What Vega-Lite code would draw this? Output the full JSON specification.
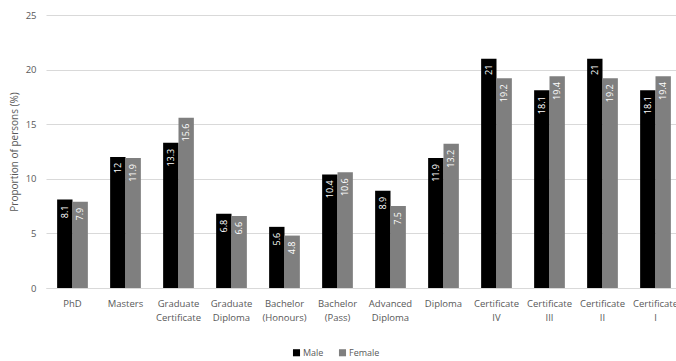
{
  "$schema": "https://vega.github.io/schema/vega-lite/v6.json",
  "width": 636,
  "height": 273,
  "autosize": {"type": "none"},
  "padding": {"left": 46, "top": 15, "right": 0, "bottom": 73},
  "background": "white",
  "config": {
    "view": {"stroke": null},
    "font": "Open Sans",
    "axis": {"labelColor": "#595959", "titleColor": "#595959", "labelFont": "Open Sans", "titleFont": "Open Sans"},
    "legend": {"labelColor": "#595959", "labelFont": "Open Sans"}
  },
  "data": {
    "values": [
      {"level": "PhD", "sex": "Male", "pct": 8.1},
      {"level": "PhD", "sex": "Female", "pct": 7.9},
      {"level": "Masters", "sex": "Male", "pct": 12},
      {"level": "Masters", "sex": "Female", "pct": 11.9},
      {"level": "Graduate Certificate", "sex": "Male", "pct": 13.3},
      {"level": "Graduate Certificate", "sex": "Female", "pct": 15.6},
      {"level": "Graduate Diploma", "sex": "Male", "pct": 6.8},
      {"level": "Graduate Diploma", "sex": "Female", "pct": 6.6},
      {"level": "Bachelor (Honours)", "sex": "Male", "pct": 5.6},
      {"level": "Bachelor (Honours)", "sex": "Female", "pct": 4.8},
      {"level": "Bachelor (Pass)", "sex": "Male", "pct": 10.4},
      {"level": "Bachelor (Pass)", "sex": "Female", "pct": 10.6},
      {"level": "Advanced Diploma", "sex": "Male", "pct": 8.9},
      {"level": "Advanced Diploma", "sex": "Female", "pct": 7.5},
      {"level": "Diploma", "sex": "Male", "pct": 11.9},
      {"level": "Diploma", "sex": "Female", "pct": 13.2},
      {"level": "Certificate IV", "sex": "Male", "pct": 21},
      {"level": "Certificate IV", "sex": "Female", "pct": 19.2},
      {"level": "Certificate III", "sex": "Male", "pct": 18.1},
      {"level": "Certificate III", "sex": "Female", "pct": 19.4},
      {"level": "Certificate II", "sex": "Male", "pct": 21},
      {"level": "Certificate II", "sex": "Female", "pct": 19.2},
      {"level": "Certificate I", "sex": "Male", "pct": 18.1},
      {"level": "Certificate I", "sex": "Female", "pct": 19.4}
    ]
  },
  "encoding": {
    "x": {
      "field": "level",
      "type": "nominal",
      "sort": null,
      "scale": {"paddingInner": 0.42, "paddingOuter": 0.21},
      "axis": {
        "title": null,
        "labelAngle": 0,
        "labelExpr": "split(datum.value, ' ')",
        "labelFontSize": 9.5,
        "labelLineHeight": 14,
        "labelPadding": 10,
        "ticks": false,
        "domainColor": "#d9d9d9",
        "labelBaseline": "top"
      }
    },
    "xOffset": {"field": "sex", "type": "nominal", "sort": ["Male", "Female"]},
    "y": {
      "field": "pct",
      "type": "quantitative",
      "scale": {"domain": [0, 25]},
      "axis": {
        "title": "Proportion of persons (%)",
        "titleFontSize": 10,
        "titleFontWeight": "normal",
        "titlePadding": 6,
        "values": [0, 5, 10, 15, 20, 25],
        "labelFontSize": 9.5,
        "labelPadding": 10,
        "ticks": false,
        "domain": false,
        "gridColor": "#d9d9d9"
      }
    }
  },
  "layer": [
    {
      "mark": {"type": "bar"},
      "encoding": {
        "color": {
          "field": "sex",
          "type": "nominal",
          "sort": ["Male", "Female"],
          "scale": {"domain": ["Male", "Female"], "range": ["#000000", "#7f7f7f"]},
          "legend": {
            "title": null,
            "orient": "none",
            "direction": "horizontal",
            "legendX": 246,
            "legendY": 333,
            "symbolType": "square",
            "symbolSize": 50,
            "symbolStrokeWidth": 0,
            "labelFontSize": 9,
            "labelOffset": 2,
            "columnPadding": 14,
            "padding": 0
          }
        }
      }
    },
    {
      "mark": {"type": "text", "angle": 270, "align": "right", "baseline": "middle", "dx": -6, "fontSize": 9, "color": "white"},
      "encoding": {
        "text": {"field": "pct", "type": "quantitative"}
      }
    }
  ]
}
